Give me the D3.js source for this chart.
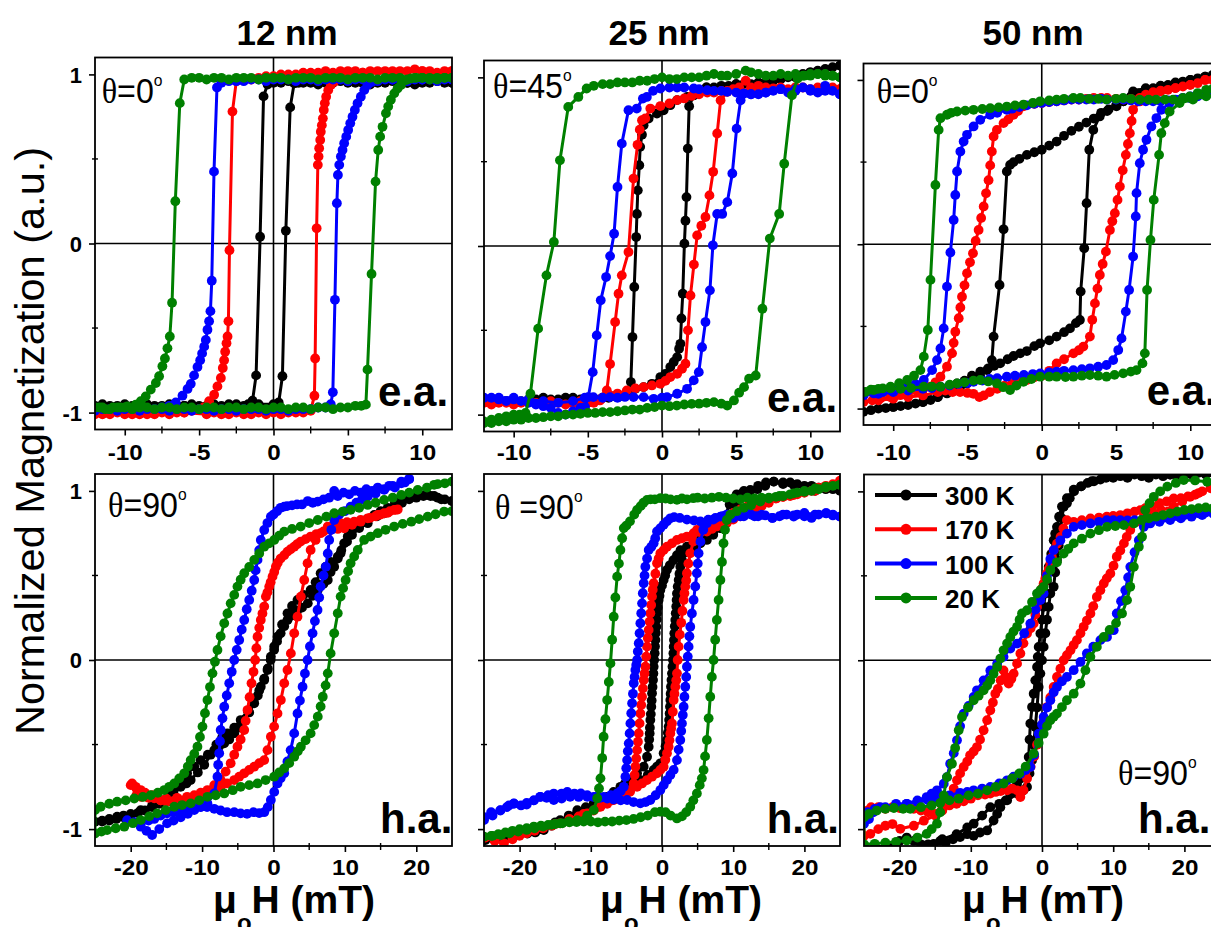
<!DOCTYPE html>
<html><head><meta charset="utf-8">
<script src="https://cdn.jsdelivr.net/npm/d3@7"></script>
<style>body{margin:0;background:#fff}svg{display:block}text{font-family:"Liberation Sans",Arial,sans-serif}</style>
</head><body>
<script>
// ---------------- data ----------------
const temps = ["300 K","170 K","100 K","20 K"];
const colors = ["#000000","#ff0000","#0000ff","#008000"];
const titles = ["12 nm","25 nm","50 nm"];
const angleLabels = ["=0","=45","=0","=90"," =90","=90"];
const axisLabels = ["e.a.","e.a.","e.a.","h.a.","h.a.","h.a."];
const topXMajor = [-10,-5,0,5,10], topXMinor = [-7.5,-2.5,2.5,7.5];
const botXMajor = [-20,-10,0,10,20], botXMinor = [-15,-5,5,15];
const yMajor = [-1,0,1], yMinor = [-0.5,0.5];

// 12 nm, theta=0, easy axis
const ea12_300K = [[12,.95],[11.5,.95],[11,.96],[10.5,.95],[10,.95],[9.5,.94],[9,.95],[8.5,.95],[8,.96],[7.5,.95],[7,.95],[6.5,.94],[6,.95],[5.5,.95],[5,.95],[4.5,.96],[4,.95],[3.5,.95],[3,.94],[2.5,.95],[2,.95],[1.5,.95],[1,.96],[.5,.95],[0,.95],[-.4,.94],[-.67,.87],[-.9,.04],[-1.17,-.78],[-1.41,-.93],[-1.7,-.95],[-2,-.96],[-2.5,-.95],[-3,-.96],[-3.5,-.96],[-4,-.95],[-4.5,-.96],[-5,-.96],[-5.5,-.95],[-6,-.96],[-6.5,-.96],[-7,-.95],[-7.5,-.96],[-8,-.96],[-8.5,-.95],[-9,-.96],[-9.5,-.96],[-10,-.95],[-10.5,-.96],[-11,-.96],[-11.5,-.95],[-12,-.96],
[-9,-.95],[-6,-.96],[-3,-.95],[-1,-.95],[0,-.95],[.35,-.94],[.6,-.785],[.83,.075],[1.12,.805],[1.39,.947],[1.7,.95],[3,.95],[6,.95],[9,.95],[12,.95]];
const ea12_170K = [[12,1.02],[11.5,1.02],[11,1.01],[10.5,1.02],[10,1.02],[9.5,1.03],[9,1.02],[8.5,1.02],[8,1.01],[7.5,1.02],[7,1.02],[6.5,1.02],[6,1.01],[5.5,1.02],[5,1.02],[4.5,1.02],[4,1.01],[3.5,1.02],[3,1.01],[2.5,1.01],[2,1.01],[1.5,1.0],[1,1.0],[.5,1.0],[0,.99],[-.5,.99],[-1,.98],[-1.5,.97],[-2,.97],[-2.5,.96],[-2.76,.78],[-2.96,-.04],[-3.03,-.46],[-3.09,-.55],[-3.16,-.59],[-3.25,-.64],[-3.32,-.69],[-3.41,-.736],[-3.54,-.795],[-3.77,-.845],[-3.99,-.894],[-4.33,-.933],[-4.7,-.97],[-5,-.98],[-5.5,-.99],[-6,-1.0],[-6.5,-1.0],[-7,-1.01],[-7.5,-1.0],[-8,-1.01],[-8.5,-1.01],[-9,-1.0],[-9.5,-1.01],[-10,-1.01],[-10.5,-1.0],[-11,-1.01],[-11.5,-1.01],[-12,-1.01],
[-9,-1.01],[-6,-1.0],[-4.5,-1.01],[-4,-1.0],[-3.5,-1.01],[-3,-1.01],[-2.5,-1.0],[-2,-1.01],[-1.5,-1.01],[-1,-1.0],[-.5,-1.01],[0,-1.0],[.5,-1.01],[1,-1.0],[1.5,-1.0],[2,-1.0],[2.5,-.99],[2.75,-.9],[2.8,-.68],[2.9,.09],[2.98,.465],[3.03,.514],[3.07,.563],[3.14,.612],[3.18,.661],[3.25,.70],[3.32,.74],[3.38,.79],[3.45,.83],[3.54,.868],[3.68,.907],[3.86,.937],[4.08,.957],[4.5,.99],[5,1.0],[6,1.01],[8,1.02],[10,1.02],[12,1.02]];
const ea12_100K = [[12,.97],[11.5,.97],[11,.96],[10.5,.97],[10,.97],[9.5,.97],[9,.96],[8.5,.97],[8,.97],[7.5,.97],[7,.96],[6.5,.97],[6,.97],[5.5,.97],[5,.96],[4.5,.97],[4,.97],[3.5,.97],[3,.96],[2.5,.97],[2,.97],[1.5,.96],[1,.97],[.5,.97],[0,.97],[-.5,.96],[-1,.97],[-1.5,.97],[-2,.96],[-2.5,.96],[-3,.96],[-3.5,.95],[-3.8,.923],[-4.0,.425],[-4.15,-.22],[-4.24,-.40],[-4.33,-.46],[-4.44,-.51],[-4.55,-.57],[-4.66,-.61],[-4.8,-.65],[-4.93,-.69],[-5.11,-.73],[-5.34,-.78],[-5.56,-.83],[-5.78,-.86],[-6.12,-.9],[-6.57,-.94],[-7,-.96],[-7.5,-.97],[-8,-.98],[-8.5,-.98],[-9,-.99],[-9.5,-.98],[-10,-.98],[-10.5,-.99],[-11,-.98],[-11.5,-.98],[-12,-.99],
[-9,-.98],[-7.5,-.98],[-7,-.99],[-6.5,-.98],[-6,-.98],[-5.5,-.99],[-5,-.98],[-4.5,-.98],[-4,-.99],[-3.5,-.98],[-3,-.98],[-2.5,-.99],[-2,-.98],[-1.5,-.98],[-1,-.98],[-.5,-.99],[0,-.98],[.5,-.98],[1,-.99],[1.5,-.98],[2,-.98],[2.5,-.98],[3,-.97],[3.5,-.97],[3.85,-.95],[3.99,-.88],[4.13,-.333],[4.26,.238],[4.33,.405],[4.42,.465],[4.53,.514],[4.64,.553],[4.75,.593],[4.89,.632],[5.02,.671],[5.16,.711],[5.31,.75],[5.47,.79],[5.65,.829],[5.87,.868],[6.1,.907],[6.32,.937],[6.6,.955],[7,.965],[8,.97],[10,.97],[12,.97]];
const ea12_20K = [[12,.98],[11.5,.98],[11,.97],[10.5,.98],[10,.98],[9.5,.98],[9,.97],[8.5,.98],[8,.98],[7.5,.98],[7,.97],[6.5,.98],[6,.98],[5.5,.98],[5,.97],[4.5,.98],[4,.98],[3.5,.98],[3,.97],[2.5,.98],[2,.98],[1.5,.98],[1,.97],[.5,.98],[0,.98],[-.5,.98],[-1,.97],[-1.5,.98],[-2,.98],[-2.5,.98],[-3,.97],[-3.5,.98],[-4,.98],[-4.5,.97],[-5,.98],[-5.5,.98],[-6,.97],[-6.3,.83],[-6.6,.25],[-6.82,-.35],[-6.97,-.55],[-7.13,-.62],[-7.3,-.68],[-7.47,-.726],[-7.69,-.785],[-7.91,-.825],[-8.25,-.864],[-8.59,-.904],[-8.92,-.933],[-9.26,-.953],[-9.82,-.963],[-10.3,-.97],[-10.8,-.97],[-11.3,-.98],[-11.7,-.97],[-12,-.97],
[-11.5,-.97],[-11,-.98],[-10.5,-.97],[-10,-.97],[-9.5,-.98],[-9,-.97],[-8.5,-.97],[-8,-.98],[-7.5,-.97],[-7,-.97],[-6.5,-.98],[-6,-.97],[-5.5,-.97],[-5,-.98],[-4.5,-.97],[-4,-.97],[-3.5,-.98],[-3,-.97],[-2.5,-.97],[-2,-.98],[-1.5,-.97],[-1,-.97],[-.5,-.98],[0,-.97],[.5,-.97],[1,-.98],[1.5,-.97],[2,-.97],[2.5,-.98],[3,-.97],[3.5,-.97],[4,-.98],[4.5,-.97],[5,-.97],[5.5,-.96],[5.9,-.96],[6.21,-.953],[6.32,-.746],[6.59,-.18],[6.86,.366],[7.04,.553],[7.17,.632],[7.33,.69],[7.56,.77],[7.71,.81],[7.89,.85],[8.12,.888],[8.34,.917],[8.57,.937],[8.9,.967],[9.24,.976],[9.6,.98],[10,.98],[10.5,.97],[11,.98],[11.5,.98],[12,.98]];

// 25 nm, theta=45, easy axis
const ea25_300K = [[12,1.07],[11.5,1.06],[11,1.05],[10.5,1.04],[10,1.03],[9.5,1.02],[9,1.0],[8.5,1.0],[8,.99],[7.5,.98],[7,.97],[6.5,.97],[6,.96],[5.5,.96],[5,.96],[4.5,.95],[4,.95],[3.5,.94],[3,.94],[2.5,.92],[2.14,.894],[1.7,.884],[1.02,.865],[.56,.835],[.11,.805],[-.34,.785],[-.9,.756],[-1.24,.716],[-1.35,.66],[-1.47,.588],[-1.53,.479],[-1.63,.33],[-1.69,.19],[-1.74,.053],[-1.87,-.243],[-1.99,-.54],[-2.1,-.807],[-2.37,-.876],[-2.8,-.89],[-3.2,-.89],[-3.6,-.9],[-4,-.9],[-4.5,-.91],[-5,-.9],[-5.5,-.91],[-6,-.91],[-6.5,-.9],[-7,-.91],[-7.5,-.91],[-8,-.9],[-8.5,-.91],[-9,-.91],[-9.5,-.92],[-10,-.91],[-10.5,-.92],[-11,-.91],[-11.5,-.92],[-12,-.92],
[-10,-.91],[-8,-.91],[-6,-.9],[-4,-.9],[-3,-.89],[-2.37,-.866],[-1.8,-.847],[-1.24,-.837],[-.68,-.817],[-.11,-.777],[.23,-.758],[.56,-.718],[.79,-.688],[1.02,-.659],[1.15,-.609],[1.24,-.58],[1.31,-.43],[1.4,-.283],[1.51,.014],[1.58,.15],[1.65,.29],[1.74,.578],[1.83,.829],[2.14,.894],[3,.94],[5,.96],[8,.99],[10,1.03],[12,1.07]];
const ea25_170K = [[12,.93],[11.5,.94],[11,.93],[10.5,.94],[10,.93],[9.5,.94],[9,.94],[8.5,.93],[8,.94],[7.5,.93],[7,.94],[6.5,.95],[6,.94],[5.64,.98],[5.2,.94],[4.8,.93],[4.4,.92],[4,.92],[3.5,.91],[3.05,.91],[2.5,.9],[2,.89],[1.5,.875],[1.02,.865],[.5,.845],[-.11,.83],[-.79,.815],[-1.13,.756],[-1.35,.746],[-1.5,.69],[-1.65,.6],[-1.92,.4],[-2.26,-.036],[-2.71,-.174],[-2.93,-.283],[-3.16,-.451],[-3.5,-.7],[-3.72,-.857],[-4.18,-.916],[-4.6,-.93],[-5,-.93],[-5.5,-.92],[-6,-.93],[-6.5,-.94],[-7,-.93],[-7.5,-.92],[-8,-.93],[-8.5,-.93],[-9,-.92],[-9.5,-.93],[-10,-.94],[-10.5,-.93],[-11,-.93],[-11.5,-.94],[-12,-.93],
[-10,-.93],[-8,-.93],[-6,-.93],[-4.6,-.92],[-4,-.9],[-3.5,-.886],[-3,-.875],[-2.37,-.857],[-1.8,-.845],[-1.24,-.837],[-.68,-.827],[-.11,-.817],[.23,-.8],[.56,-.777],[1.02,-.758],[1.35,-.728],[1.58,-.698],[1.75,-.5],[1.92,-.293],[2.15,-.11],[2.37,.063],[2.65,.12],[2.93,.172],[3.2,.3],[3.45,.44],[3.72,.667],[3.95,.864],[4.4,.914],[5,.92],[6,.93],[7.5,.935],[9,.94],[10.5,.935],[12,.93]];
const ea25_100K = [[12,.9],[11.5,.92],[11,.95],[10.5,.91],[10,.93],[9.5,.94],[9,.92],[8.5,.91],[8,.93],[7.5,.92],[7,.91],[6.5,.9],[6,.9],[5.5,.904],[5,.91],[4.4,.914],[4,.92],[3.5,.92],[3.05,.924],[2.5,.93],[2.14,.934],[1.5,.94],[1.02,.94],[.5,.94],[-.11,.934],[-.6,.92],[-1.02,.884],[-1.29,.874],[-1.7,.815],[-2.26,.805],[-2.71,.607],[-3.0,.35],[-3.23,.073],[-3.5,-.06],[-3.77,-.184],[-4.13,-.322],[-4.4,-.53],[-4.67,-.748],[-4.97,-.896],[-5.19,-.955],[-5.5,-.96],[-6,-.98],[-6.5,-1.0],[-7,-.99],[-7.5,-.96],[-8,-.95],[-8.5,-.94],[-9,-.93],[-9.5,-.92],[-10,-.91],[-10.5,-.92],[-11,-.91],[-11.5,-.9],[-12,-.9],
[-11,-.9],[-10,-.9],[-9,-.91],[-8,-.92],[-7,-.93],[-6,-.92],[-5.2,-.9],[-4.63,-.896],[-4,-.9],[-3.5,-.896],[-3,-.9],[-2.5,-.895],[-1.92,-.896],[-1.24,-.896],[-.56,-.906],[0,-.9],[.34,-.896],[1.02,-.876],[1.69,-.847],[2.14,-.797],[2.48,-.748],[2.7,-.6],[2.93,-.451],[3.23,-.263],[3.43,.004],[3.72,.19],[4.06,.19],[4.4,.26],[4.74,.43],[5.03,.696],[5.3,.864],[5.53,.904],[6,.9],[7,.91],[8,.93],[9,.93],[10,.92],[11,.92],[12,.9]];
const ea25_20K = [[12,1.0],[11.5,1.01],[11,1.01],[10.5,1.02],[10,1.02],[9.5,1.01],[9,1.02],[8.5,1.01],[8,1.02],[7.5,1.01],[7,1.01],[6.5,1.02],[6,1.03],[5.64,1.04],[5,1.02],[4.4,1.01],[4,1.01],[3.5,1.02],[3,1.01],[2.5,1.0],[2,1.0],[1.5,1.0],[1,.99],[.5,.99],[0,1.0],[-.5,.99],[-1,.98],[-1.5,.98],[-2,.97],[-2.5,.97],[-3,.97],[-3.5,.96],[-4,.96],[-4.6,.95],[-5.08,.934],[-5.64,.884],[-6.32,.825],[-6.88,.508],[-7.29,.024],[-7.79,-.174],[-8.35,-.49],[-8.87,-.876],[-9.2,-.99],[-9.6,-1.0],[-10,-1.0],[-10.5,-1.01],[-11,-1.02],[-11.5,-1.03],[-12,-1.04],
[-12,-1.05],[-11.5,-1.05],[-11,-1.04],[-10.5,-1.04],[-10,-1.03],[-9.5,-1.03],[-9,-1.02],[-8.5,-1.02],[-8,-1.015],[-7.5,-1.01],[-7,-1.01],[-6.5,-1.0],[-6,-1.0],[-5.5,-.995],[-5,-.99],[-4.5,-.99],[-4,-.985],[-3.5,-.985],[-3,-.98],[-2.5,-.975],[-2,-.97],[-1.5,-.97],[-1,-.96],[-.5,-.955],[0,-.946],[.5,-.95],[1,-.946],[1.5,-.94],[2,-.936],[2.5,-.935],[3,-.93],[3.5,-.926],[4,-.935],[4.4,-.946],[4.85,-.916],[5.2,-.87],[5.53,-.837],[5.87,-.787],[6.32,-.768],[6.77,-.372],[7.27,.044],[7.9,.19],[8.24,.488],[8.76,.894],[9.14,.993],[9.6,1.01],[10,1.01],[10.5,1.02],[11,1.02],[11.5,1.01],[12,1.0]];

// 50 nm, theta=0, easy axis
const ea50_300K = [[12,1.04],[11.5,1.03],[11,1.02],[10.5,1.01],[10,1.0],[9.5,.99],[9,.98],[8.5,.97],[8,.96],[7.5,.95],[7,.94],[6.5,.92],[6,.9],[5.5,.87],[5,.845],[4.5,.82],[4,.8],[3.5,.765],[3,.74],[2.5,.715],[2,.69],[1.5,.66],[1,.625],[.5,.6],[0,.575],[-.5,.56],[-1,.544],[-1.5,.52],[-1.9,.50],[-2.13,.483],[-2.35,.443],[-2.57,.091],[-2.84,-.248],[-3.24,-.562],[-3.36,-.705],[-3.69,-.766],[-4.14,-.806],[-4.6,-.83],[-5.03,-.847],[-5.5,-.87],[-6,-.89],[-6.38,-.908],[-7,-.93],[-7.49,-.948],[-8,-.96],[-8.5,-.97],[-9,-.979],[-9.5,-.985],[-10,-.99],[-10.5,-.997],[-11,-1.0],[-11.5,-1.01],[-12,-1.02],
[-10,-.99],[-8,-.96],[-7,-.93],[-6.38,-.9],[-6,-.87],[-5.7,-.847],[-5.2,-.83],[-4.7,-.8],[-4.14,-.776],[-3.6,-.755],[-3.2,-.74],[-2.8,-.725],[-2.3,-.7],[-1.9,-.68],[-1.45,-.664],[-1,-.65],[-.5,-.62],[-.11,-.603],[.5,-.585],[1,-.562],[1.5,-.535],[1.9,-.512],[2.3,-.48],[2.57,-.461],[2.62,-.288],[2.86,-.024],[3.02,.25],[3.2,.575],[3.47,.696],[3.9,.778],[4.4,.81],[5.03,.839],[5.5,.87],[6.15,.93],[7,.95],[8,.965],[9,.985],[10,1.0],[11,1.02],[12,1.04]];
const ea50_170K = [[12,1.01],[11.5,1.0],[11,1.0],[10.5,.98],[10,.97],[9.5,.96],[9,.95],[8.5,.94],[8,.935],[7.5,.925],[7,.91],[6.6,.89],[6,.885],[5.5,.88],[5,.885],[4.4,.89],[4,.89],[3.5,.89],[3,.885],[2.5,.88],[2,.88],[1.5,.875],[1,.87],[.5,.865],[0,.86],[-.5,.855],[-1.23,.839],[-1.6,.81],[-1.9,.788],[-2.25,.76],[-2.57,.737],[-3.02,.696],[-3.24,.656],[-3.36,.564],[-3.47,.48],[-3.58,.39],[-3.75,.31],[-3.91,.23],[-4.08,.16],[-4.25,.087],[-4.45,.02],[-4.63,-.055],[-4.83,-.11],[-5.03,-.177],[-5.2,-.25],[-5.37,-.319],[-5.48,-.385],[-5.59,-.45],[-5.82,-.532],[-5.93,-.6],[-6.04,-.664],[-6.38,-.745],[-6.82,-.806],[-7.15,-.84],[-7.49,-.867],[-8.0,-.885],[-8.39,-.897],[-9,-.91],[-9.5,-.918],[-10.2,-.93],[-10.85,-.938],[-11.4,-.95],[-12,-.96],
[-11,-.95],[-10,-.94],[-9,-.93],[-8,-.92],[-7,-.9],[-6.5,-.89],[-6,-.9],[-5.5,-.9],[-5,-.905],[-4.6,-.91],[-4.2,-.93],[-3.9,-.92],[-3.5,-.9],[-3,-.88],[-2.5,-.86],[-2,-.85],[-1.5,-.835],[-1,-.826],[-.5,-.81],[0,-.8],[.5,-.77],[1.0,-.725],[1.5,-.7],[2.13,-.664],[2.5,-.645],[2.8,-.623],[3.24,-.562],[3.4,-.46],[3.58,-.36],[3.75,-.27],[3.91,-.187],[4.1,-.12],[4.32,-.045],[4.59,.087],[4.75,.14],[4.92,.189],[5.1,.27],[5.26,.351],[5.45,.45],[5.66,.544],[5.8,.61],[5.93,.676],[6.05,.75],[6.15,.818],[6.6,.869],[7,.88],[8,.93],[9,.95],[10,.97],[11,1.0],[12,1.01]];
const ea50_100K = [[12,.93],[11.5,.92],[11,.92],[10.5,.91],[10,.9],[9.5,.89],[9,.88],[8.5,.875],[8,.87],[7.5,.87],[7,.87],[6.5,.87],[6,.875],[5.5,.88],[5,.88],[4.4,.88],[4,.885],[3.5,.88],[3,.88],[2.5,.88],[2,.88],[1.5,.875],[1,.87],[.5,.865],[0,.86],[-.5,.855],[-1,.845],[-1.5,.835],[-2,.825],[-2.35,.818],[-3,.8],[-3.47,.788],[-4.14,.757],[-4.59,.717],[-5.03,.666],[-5.26,.625],[-5.48,.564],[-5.7,.443],[-5.82,.3],[-5.93,.148],[-6.15,-.05],[-6.38,-.258],[-6.6,-.512],[-6.82,-.634],[-7.05,-.705],[-7.38,-.766],[-7.94,-.826],[-8.5,-.85],[-9.06,-.867],[-9.6,-.877],[-10.18,-.887],[-10.7,-.9],[-11.3,-.908],[-12,-.92],
[-11,-.91],[-10,-.9],[-9,-.89],[-8,-.88],[-7.4,-.875],[-6.82,-.867],[-6.2,-.86],[-5.6,-.85],[-5,-.845],[-4.59,-.837],[-4,-.83],[-3.5,-.82],[-3,-.815],[-2.35,-.806],[-1.8,-.8],[-1.2,-.795],[-.6,-.79],[-.11,-.786],[.5,-.78],[1.0,-.776],[1.5,-.77],[2.13,-.766],[2.7,-.76],[3.24,-.755],[3.8,-.745],[4.36,-.735],[4.81,-.705],[5.15,-.644],[5.37,-.573],[5.66,-.41],[5.88,-.278],[6.15,-.075],[6.33,.169],[6.38,.311],[6.6,.493],[6.82,.575],[7.05,.636],[7.38,.717],[7.72,.768],[8.05,.818],[8.61,.859],[9.3,.88],[9.96,.89],[10.5,.9],[11.07,.92],[12,.93]];
const ea50_20K = [[12,.95],[11.5,.945],[11.07,.94],[10.5,.92],[9.96,.9],[9.5,.89],[8.84,.88],[8.3,.88],[7.7,.88],[7.2,.88],[6.6,.88],[6,.885],[5.48,.89],[5,.885],[4.36,.88],[3.8,.885],[3.2,.885],[2.6,.89],[2.13,.89],[1.5,.885],[1.0,.88],[.5,.875],[-.11,.87],[-.6,.86],[-1.23,.85],[-1.8,.845],[-2.35,.838],[-2.9,.833],[-3.47,.828],[-4,.823],[-4.59,.818],[-5.15,.813],[-5.7,.808],[-6.1,.8],[-6.38,.788],[-6.82,.767],[-6.94,.696],[-7.16,.361],[-7.49,-.217],[-7.67,-.522],[-7.94,-.684],[-8.17,-.766],[-8.6,-.8],[-9.06,-.826],[-9.6,-.845],[-10.18,-.867],[-10.7,-.877],[-11.3,-.887],[-11.86,-.898],[-12,-.9],
[-11.5,-.885],[-11,-.88],[-10.18,-.877],[-9.5,-.88],[-8.8,-.875],[-7.94,-.867],[-7.4,-.866],[-6.82,-.867],[-6.2,-.855],[-5.7,-.847],[-5.2,-.84],[-4.6,-.83],[-4.14,-.826],[-3.6,-.835],[-3.02,-.847],[-2.6,-.87],[-2.13,-.887],[-1.7,-.86],[-1.23,-.837],[-.7,-.82],[-.11,-.806],[.5,-.806],[1.0,-.806],[1.6,-.808],[2.13,-.806],[2.7,-.8],[3.24,-.796],[3.8,-.8],[4.36,-.806],[4.9,-.795],[5.48,-.786],[6,-.775],[6.38,-.766],[6.78,-.725],[6.94,-.664],[7.09,-.278],[7.32,.026],[7.54,.27],[7.9,.544],[8.05,.676],[8.28,.737],[8.61,.808],[9.28,.859],[10.18,.88],[11.07,.9],[12,.91]];

// 12 nm, theta=90, hard axis
const ha12_300K = [[25,.94],[24,.95],[23,.96],[22,.97],[21,.97],[20,.96],[19,.95],[18,.93],[17,.91],[16,.88],[15.5,.868],[14.5,.85],[13.2,.809],[12,.78],[11,.74],[10.3,.7],[9.4,.631],[9,.6],[8.5,.552],[8,.52],[7.6,.473],[7,.45],[6.2,.414],[5.5,.38],[4.8,.335],[4,.31],[3.3,.29],[2.9,.276],[2.4,.26],[1.96,.237],[1.5,.2],[1,.158],[.5,.11],[.09,.06],[-.4,0],[-.84,-.059],[-1.3,-.11],[-1.78,-.158],[-2.2,-.21],[-2.7,-.256],[-3.4,-.31],[-4.1,-.355],[-4.8,-.4],[-5.5,-.434],[-6.2,-.47],[-6.9,-.493],[-7.6,-.51],[-8.3,-.533],[-9.2,-.56],[-10.2,-.592],[-11.1,-.63],[-12.1,-.67],[-12.8,-.71],[-13.5,-.75],[-14.6,-.79],[-15.8,-.83],[-17,-.86],[-18.6,-.888],[-20,-.91],[-21,-.92],[-21.9,-.927],[-23,-.94],[-24,-.95],[-25,-.957],
[-24,-.955],[-23,-.95],[-22,-.94],[-21,-.93],[-20,-.92],[-19,-.905],[-18,-.89],[-17,-.87],[-16,-.85],[-15,-.82],[-14,-.79],[-13,-.75],[-12.2,-.73],[-11.6,-.71],[-10.6,-.665],[-9.7,-.62],[-8.8,-.56],[-8,-.5],[-7.2,-.46],[-6.45,-.434],[-5.5,-.4],[-4.6,-.355],[-3.6,-.3],[-2.8,-.24],[-2,-.18],[-1.3,-.118],[-.8,-.05],[-.37,.02],[.1,.08],[.56,.138],[1.2,.21],[1.96,.276],[2.6,.32],[3.36,.355],[4.2,.385],[5.2,.414],[5.9,.46],[6.6,.513],[7.3,.55],[8,.58],[9,.611],[9.5,.65],[9.9,.69],[10.4,.73],[10.8,.769],[11.5,.79],[12.2,.809],[13.2,.835],[14.1,.858],[15,.88],[16,.9],[17,.93],[17.9,.947],[19,.96],[20,.97],[21,.975],[21.6,.976],[22.5,.97],[23.5,.95],[25,.94]];
const ha12_170K = [[17.4,.89],[16.9,.888],[16,.87],[15,.86],[14.6,.858],[13.5,.84],[12.2,.818],[11,.8],[9.9,.779],[9,.775],[8,.769],[7,.76],[6,.745],[5.2,.73],[4.5,.715],[3.8,.70],[3.3,.685],[2.9,.67],[2.4,.655],[1.96,.641],[1.5,.62],[1,.60],[.6,.575],[.33,.552],[.1,.52],[-.14,.493],[-.4,.46],[-.6,.434],[-.85,.4],[-1.07,.375],[-1.3,.316],[-1.55,.275],[-1.78,.237],[-2.0,.19],[-2.24,.138],[-2.4,.07],[-2.57,0],[-2.8,-.07],[-3.08,-.138],[-3.35,-.22],[-3.64,-.296],[-3.9,-.36],[-4.1,-.414],[-4.6,-.47],[-5.05,-.513],[-5.5,-.56],[-6.0,-.611],[-6.7,-.66],[-7.4,-.71],[-8.3,-.74],[-9.25,-.769],[-10.2,-.785],[-11.1,-.8],[-12.1,-.809],[-13.5,-.815],[-15,-.82],[-15.8,-.83],[-17,-.8],[-18,-.785],[-18.6,-.769],[-19.3,-.75],[-19.8,-.73],[-20,-.74],
[-19.2,-.8],[-18.5,-.81],[-17.5,-.815],[-16.7,-.818],[-15.8,-.83],[-14.9,-.838],[-14,-.835],[-13,-.83],[-12,-.815],[-11.1,-.809],[-10,-.79],[-9,-.775],[-8,-.76],[-7.4,-.75],[-6.5,-.73],[-5.5,-.71],[-4.8,-.69],[-4.1,-.67],[-3.4,-.65],[-2.7,-.631],[-2,-.61],[-1.3,-.592],[-.84,-.533],[-.37,-.454],[.09,-.394],[.56,-.316],[1.03,-.237],[1.5,-.138],[1.96,-.059],[2.43,.039],[2.9,.158],[3.36,.256],[3.83,.375],[4.3,.473],[4.77,.572],[5.2,.651],[5.9,.71],[6.6,.75],[7.6,.789],[8.5,.8],[9.4,.809],[10.3,.815],[11.3,.818],[12.2,.828],[13.2,.838],[14.3,.85],[15.5,.868],[16.3,.88],[17.1,.888]];
const ha12_100K = [[19,1.07],[18.4,1.05],[17.9,1.045],[17,1.02],[16.2,1.03],[15.5,1.01],[14.6,1.02],[13.8,1.0],[13,1.01],[12.2,.99],[11.4,1.0],[10.6,.98],[9.8,.99],[9,.97],[8.5,1.0],[7.8,.96],[7,.95],[6.2,.937],[5.5,.93],[4.8,.94],[4,.92],[3.3,.92],[2.6,.915],[1.9,.91],[1.5,.907],[1,.9],[.5,.88],[0,.86],[-.37,.848],[-.85,.81],[-1.3,.769],[-1.78,.71],[-2.0,.65],[-2.24,.592],[-2.5,.53],[-2.7,.473],[-3.05,.41],[-3.4,.355],[-3.75,.3],[-4.1,.237],[-4.45,.18],[-4.8,.118],[-5.15,.06],[-5.5,0],[-5.85,-.07],[-6.2,-.138],[-6.55,-.21],[-6.9,-.276],[-7.15,-.345],[-7.4,-.414],[-7.5,-.48],[-7.6,-.552],[-7.75,-.62],[-7.85,-.69],[-8.3,-.789],[-9.25,-.848],[-10.2,-.87],[-11.1,-.888],[-12,-.91],[-13,-.93],[-14,-.95],[-14.9,-.966],[-16,-1.0],[-17,-1.035],[-17.8,-1.01],[-18.6,-.986],[-19.5,-.96],[-20.5,-.947],
[-19.5,-.96],[-18.6,-.97],[-17.5,-.95],[-16.7,-.94],[-15.8,-.92],[-14.9,-.907],[-14,-.9],[-13,-.89],[-12,-.885],[-11,-.875],[-10.2,-.868],[-9.3,-.87],[-8.3,-.88],[-7.4,-.89],[-6.5,-.9],[-5.5,-.9],[-4.6,-.907],[-3.7,-.91],[-2.8,-.9],[-2,-.905],[-1.3,-.9],[-.8,-.87],[-.37,-.828],[.1,-.78],[.56,-.73],[1.0,-.7],[1.5,-.67],[1.95,-.6],[2.4,-.533],[2.9,-.434],[3.36,-.316],[3.7,-.24],[4.07,-.158],[4.4,-.08],[4.77,0],[5.1,.08],[5.47,.158],[5.8,.23],[6.17,.296],[6.4,.37],[6.6,.434],[7.0,.5],[7.34,.552],[7.6,.63],[7.8,.71],[8.1,.77],[8.5,.828],[9.2,.86],[10,.88],[10.8,.907],[11.6,.93],[12.4,.95],[13.2,.966],[14.3,.985],[15.5,1.006],[16.7,1.03],[17.9,1.055],[19,1.07]];
const ha12_20K = [[25,1.055],[24,1.045],[23,1.04],[22.5,1.036],[21.5,1.02],[20.2,1.006],[19,.99],[17.9,.976],[16.7,.96],[15.5,.947],[14.3,.93],[13.2,.917],[12,.9],[10.8,.888],[9.7,.878],[8.5,.868],[7.4,.848],[6.2,.828],[5,.81],[3.8,.789],[2.6,.775],[1.5,.759],[.8,.735],[.1,.71],[-.6,.69],[-1.3,.67],[-2,.63],[-2.7,.592],[-3.4,.55],[-4.1,.513],[-4.6,.475],[-5.05,.434],[-5.5,.385],[-6,.335],[-6.45,.275],[-6.9,.217],[-7.4,.14],[-7.85,.059],[-8.2,-.01],[-8.55,-.079],[-8.9,-.16],[-9.25,-.237],[-9.6,-.315],[-9.95,-.394],[-10.3,-.455],[-10.65,-.513],[-11.1,-.555],[-11.6,-.592],[-12,-.63],[-12.5,-.67],[-13.2,-.7],[-13.9,-.73],[-14.6,-.75],[-15.3,-.769],[-16.2,-.785],[-17.2,-.8],[-18.3,-.81],[-19.5,-.819],[-20.7,-.83],[-21.9,-.838],[-23,-.85],[-24.2,-.868],[-25,-.888],
[-25,-1.026],[-24.1,-1.015],[-23.3,-1.006],[-22.1,-.995],[-20.9,-.986],[-19.7,-.965],[-18.6,-.947],[-17.4,-.925],[-16.3,-.907],[-15.1,-.888],[-13.9,-.868],[-12.8,-.858],[-11.6,-.848],[-10.4,-.83],[-9.25,-.809],[-8.1,-.8],[-6.9,-.789],[-5.7,-.77],[-4.6,-.75],[-3.4,-.74],[-2.24,-.73],[-1.1,-.71],[.09,-.69],[.8,-.665],[1.5,-.641],[2.2,-.61],[2.9,-.572],[3.4,-.54],[3.83,-.513],[4.5,-.475],[5.2,-.434],[5.7,-.385],[6.2,-.335],[6.6,-.275],[6.9,-.217],[7.3,-.15],[7.6,-.079],[8.0,.039],[8.5,.158],[9.0,.276],[9.4,.375],[9.75,.425],[10.1,.473],[10.45,.525],[10.8,.572],[11.3,.612],[11.8,.651],[12.7,.71],[13.6,.73],[14.6,.75],[15.7,.77],[16.9,.789],[18.1,.805],[19.3,.818],[20.4,.833],[21.6,.848],[22.7,.862],[23.9,.878],[25,.88]];

// 25 nm, theta=90, hard axis
const ha25_300K = [[25,1.0],[24,1.01],[23,1.02],[22,1.02],[21,1.03],[20,1.03],[19,1.04],[18,1.05],[17,1.05],[15.7,1.055],[14.5,1.03],[13.4,1.01],[12.4,1.0],[11.4,.99],[10.4,.92],[9.5,.86],[8.8,.8],[8.2,.78],[7.2,.76],[6.3,.75],[5.4,.71],[4.4,.69],[3.5,.67],[2.6,.65],[2.1,.62],[1.6,.59],[1.1,.56],[.7,.533],[.45,.5],[.23,.473],[0,.44],[-.23,.414],[-.35,.38],[-.47,.355],[-.6,.31],[-.7,.276],[-.75,.24],[-.8,.197],[-.87,.16],[-.93,.118],[-.98,.08],[-1.03,.04],[-1.1,0],[-1.17,-.04],[-1.21,-.08],[-1.26,-.118],[-1.33,-.16],[-1.4,-.197],[-1.45,-.24],[-1.5,-.276],[-1.57,-.32],[-1.64,-.355],[-1.7,-.4],[-1.73,-.434],[-1.8,-.47],[-1.87,-.513],[-2.1,-.572],[-2.57,-.631],[-3.5,-.67],[-4.44,-.71],[-5.2,-.73],[-5.84,-.75],[-6.8,-.78],[-7.7,-.809],[-8.6,-.83],[-9.6,-.848],[-10.7,-.87],[-11.9,-.888],[-13.1,-.92],[-14.3,-.947],[-15.5,-.98],[-16.6,-1.006],[-17.8,-1.02],[-18.9,-1.026],[-20.1,-1.035],[-21.3,-1.045],[-22.5,-1.05],[-23.6,-1.06],[-24.8,-1.065],
[-23,-1.04],[-21,-1.03],[-19,-1.02],[-17,-1.0],[-15,-.96],[-13,-.93],[-11,-.9],[-9,-.86],[-7,-.82],[-5.5,-.79],[-4.9,-.77],[-4,-.74],[-3,-.71],[-2,-.68],[-1.17,-.65],[-.7,-.63],[-.23,-.611],[.23,-.552],[.5,-.51],[.7,-.473],[.82,-.43],[.93,-.394],[1.0,-.355],[1.07,-.316],[1.12,-.276],[1.17,-.237],[1.21,-.2],[1.26,-.158],[1.33,-.118],[1.4,-.079],[1.47,-.04],[1.54,0],[1.6,.04],[1.64,.079],[1.68,.118],[1.73,.158],[1.8,.2],[1.87,.237],[1.93,.276],[2.0,.316],[2.05,.355],[2.1,.394],[2.2,.434],[2.34,.473],[2.45,.51],[2.57,.552],[2.8,.59],[3.04,.631],[3.7,.655],[4.44,.67],[5.4,.69],[6.3,.71],[7.2,.74],[8.2,.78],[8.8,.85],[9.5,.92],[10.5,.98],[11.5,1.0],[12.4,1.006],[13.5,1.03],[14.6,1.05],[15.7,1.055],[17,1.04],[18.5,1.035],[20,1.02],[21.5,1.0],[23,1.01],[25,1.02]];
const ha25_170K = [[25,1.055],[24,1.04],[23,1.03],[22,1.02],[21,1.0],[20,.99],[19,.98],[18,.97],[17,.965],[16.1,.957],[15,.93],[14,.91],[13,.89],[12,.87],[11,.85],[10,.83],[9.1,.81],[8.4,.8],[7.7,.79],[7,.775],[6.3,.76],[5.4,.755],[4.44,.75],[3.5,.73],[2.8,.72],[2.1,.71],[1.4,.69],[.7,.67],[.23,.65],[-.23,.631],[-.47,.6],[-.7,.572],[-.93,.51],[-1.17,.454],[-1.3,.415],[-1.4,.375],[-1.52,.325],[-1.64,.276],[-1.75,.227],[-1.87,.178],[-2.0,.13],[-2.1,.079],[-2.22,.02],[-2.34,-.04],[-2.45,-.08],[-2.57,-.118],[-2.68,-.168],[-2.8,-.217],[-2.92,-.266],[-3.04,-.316],[-3.15,-.375],[-3.27,-.434],[-3.38,-.483],[-3.5,-.533],[-3.62,-.582],[-3.74,-.631],[-3.85,-.68],[-3.97,-.73],[-4.44,-.769],[-5.37,-.789],[-6.1,-.81],[-6.78,-.828],[-7.7,-.85],[-8.64,-.868],[-9.6,-.89],[-10.5,-.907],[-11.7,-.925],[-12.9,-.945],[-14.3,-.966],[-15.5,-.98],[-16.7,-.995],[-17.9,-1.01],[-19,-1.025],[-20,-1.04],[-21,-1.06],[-22.2,-1.085],[-23.5,-1.07],[-24.8,-1.05],
[-23,-1.04],[-21,-1.03],[-19,-1.01],[-17,-.99],[-15,-.97],[-13,-.94],[-11,-.91],[-9,-.87],[-7,-.83],[-5.5,-.8],[-4.5,-.78],[-3.5,-.75],[-2.8,-.73],[-2.1,-.71],[-1.4,-.69],[-.7,-.67],[-.23,-.65],[.23,-.631],[.47,-.59],[.7,-.552],[.93,-.513],[1.05,-.475],[1.17,-.434],[1.28,-.405],[1.4,-.375],[1.52,-.306],[1.64,-.237],[1.75,-.2],[1.87,-.158],[2.0,-.12],[2.1,-.079],[2.2,0],[2.34,.079],[2.5,.15],[2.7,.22],[2.87,.29],[3.04,.355],[3.15,.395],[3.27,.434],[3.4,.47],[3.5,.513],[3.7,.57],[3.97,.631],[4.4,.7],[4.9,.769],[5.6,.78],[6.4,.795],[7.2,.809],[8.1,.83],[9.1,.848],[10,.87],[11,.89],[12,.91],[13,.93],[14,.94],[15,.95],[16,.955],[17,.965],[18.5,.975],[20,.99],[21.5,1.0],[23,1.02],[25,1.06]];
const ha25_100K = [[25,.848],[24,.86],[23.1,.868],[22,.86],[21,.84],[20,.85],[19,.86],[18.5,.848],[17.5,.86],[16.5,.85],[15.5,.84],[14.5,.855],[13.5,.85],[12.5,.86],[11.5,.85],[10.5,.865],[9.5,.86],[8.5,.85],[7.5,.84],[6.5,.83],[5.4,.82],[4.5,.825],[3.5,.83],[2.5,.84],[1.7,.845],[1.17,.838],[.7,.82],[.23,.8],[-.23,.78],[-.7,.76],[-.95,.72],[-1.17,.69],[-1.5,.67],[-1.87,.651],[-2.1,.6],[-2.34,.552],[-2.45,.5],[-2.57,.454],[-2.7,.395],[-2.8,.335],[-2.92,.276],[-3.04,.217],[-3.15,.158],[-3.27,.099],[-3.4,.05],[-3.5,0],[-3.62,-.03],[-3.74,-.059],[-3.85,-.1],[-3.97,-.138],[-4.08,-.2],[-4.2,-.256],[-4.32,-.315],[-4.44,-.375],[-4.55,-.434],[-4.67,-.493],[-4.8,-.54],[-4.9,-.592],[-5.02,-.64],[-5.14,-.69],[-5.37,-.75],[-5.8,-.775],[-6.3,-.789],[-7.2,-.8],[-8.2,-.809],[-9.3,-.81],[-10.5,-.809],[-11.7,-.81],[-12.9,-.809],[-14.1,-.82],[-15.2,-.828],[-16.2,-.815],[-17.1,-.809],[-18,-.83],[-19,-.845],[-20.8,-.848],[-21.8,-.87],[-22.7,-.888],[-23.8,-.92],[-25,-.947],
[-25,-.93],[-24,-.9],[-22.7,-.89],[-21.5,-.86],[-20.8,-.85],[-19.8,-.86],[-19,-.855],[-18,-.83],[-17.1,-.81],[-16,-.8],[-15.2,-.79],[-14.1,-.79],[-13.3,-.78],[-12.3,-.79],[-11.4,-.789],[-10.5,-.8],[-9.6,-.81],[-8.7,-.815],[-7.7,-.82],[-6.8,-.825],[-5.8,-.83],[-4.9,-.828],[-4,-.84],[-3.04,-.848],[-2.3,-.84],[-1.64,-.828],[-.9,-.8],[-.23,-.769],[.23,-.74],[.7,-.71],[1.17,-.68],[1.64,-.65],[2.1,-.592],[2.34,-.53],[2.57,-.473],[2.7,-.42],[2.8,-.375],[2.92,-.325],[3.04,-.276],[3.15,-.217],[3.27,-.158],[3.4,-.1],[3.5,-.04],[3.62,.02],[3.74,.079],[3.85,.14],[3.97,.197],[4.2,.275],[4.44,.355],[4.67,.435],[4.9,.513],[5.02,.57],[5.14,.631],[5.4,.7],[5.8,.77],[6.3,.809],[7.2,.83],[8.2,.848],[9.1,.86],[10,.84],[11,.85],[12,.87],[13,.85],[14,.86],[15.5,.84],[17,.86],[18.5,.855],[20,.87],[21.5,.86],[23,.868],[24,.855],[25,.848]];
const ha25_20K = [[25,1.036],[24,1.03],[23,1.02],[22,1.01],[21,1.0],[20,.995],[19,.99],[18,.98],[17,.97],[16,.965],[15,.96],[14,.96],[13,.955],[12,.96],[11,.95],[10,.955],[9,.96],[8,.965],[7,.96],[6,.955],[5,.96],[4.4,.957],[3.5,.95],[2.8,.955],[2.1,.947],[1.2,.95],[.5,.955],[-.23,.957],[-1,.95],[-1.6,.95],[-2.1,.947],[-2.6,.93],[-3,.91],[-3.5,.888],[-3.9,.86],[-4.5,.82],[-5.0,.795],[-5.37,.78],[-5.6,.72],[-5.84,.651],[-6.05,.57],[-6.3,.493],[-6.55,.37],[-6.78,.256],[-7.0,.12],[-7.24,-.02],[-7.47,-.13],[-7.7,-.237],[-7.95,-.35],[-8.2,-.454],[-8.4,-.58],[-8.64,-.7],[-8.85,-.76],[-9.1,-.818],[-9.58,-.888],[-10.5,-.92],[-11.9,-.947],[-13.1,-.955],[-14.3,-.966],[-15.5,-.975],[-16.7,-.985],[-17.9,-.995],[-19,-1.005],[-20.2,-1.015],[-21.4,-1.025],[-22.6,-1.035],[-23.8,-1.04],[-25,-1.045],
[-24,-1.04],[-23,-1.03],[-22,-1.02],[-21,-1.01],[-20,-1.0],[-19,-.995],[-18,-.985],[-17,-.98],[-16,-.975],[-15,-.97],[-14,-.966],[-13,-.96],[-12,-.958],[-11,-.955],[-10,-.955],[-9,-.96],[-8,-.956],[-7,-.955],[-6,-.95],[-5,-.947],[-4,-.94],[-3,-.93],[-2,-.92],[-1,-.9],[-.23,-.897],[.5,-.9],[1.2,-.92],[2.1,-.937],[2.8,-.925],[3.4,-.9],[3.97,-.868],[4.4,-.83],[4.9,-.789],[5.3,-.74],[5.6,-.7],[5.84,-.651],[6.05,-.57],[6.3,-.473],[6.55,-.345],[6.78,-.217],[7.0,-.1],[7.24,0],[7.47,.12],[7.7,.237],[7.95,.355],[8.2,.473],[8.42,.58],[8.64,.69],[8.85,.77],[9.1,.828],[9.6,.86],[10.5,.88],[11.5,.9],[12.5,.915],[13.8,.937],[15,.955],[16.5,.97],[18.5,.986],[20,1.0],[21.5,1.015],[23,1.025],[25,1.036]];

// 50 nm, theta=90, hard axis
const ha50_300K = [[25,1.12],[24,1.11],[23,1.1],[22,1.11],[21,1.1],[20,1.1],[19,1.09],[18,1.1],[17,1.09],[16,1.1],[15,1.08],[14,1.09],[13,1.1],[12,1.08],[11,1.09],[10,1.08],[9.1,1.087],[8.2,1.07],[7.3,1.06],[6.4,1.05],[5.5,1.03],[4.45,1.01],[3.9,.96],[3.5,.93],[2.8,.91],[2.4,.85],[2.1,.79],[1.85,.75],[1.64,.711],[1.3,.63],[.94,.553],[.7,.47],[.47,.395],[.23,.316],[0,.24],[-.23,.158],[-.47,.079],[-.6,.02],[-.7,-.04],[-.94,-.119],[-1.17,-.198],[-1.4,-.277],[-1.64,-.375],[-1.75,-.47],[-1.87,-.573],[-2.1,-.632],[-2.58,-.672],[-3.0,-.7],[-3.5,-.731],[-4.0,-.76],[-4.45,-.79],[-5.1,-.83],[-5.85,-.87],[-6.3,-.91],[-6.8,-.949],[-7.7,-1.008],[-8.7,-1.02],[-9.6,-1.04],[-10.5,-1.03],[-11.5,-1.047],[-12.5,-1.06],[-13.5,-1.08],[-14.3,-1.07],[-15.2,-1.087],[-16,-1.1],[-17,-1.09],[-18,-1.07],[-19,-1.05],[-20,-1.07],[-21,-1.1],[-22,-1.11],[-23,-1.12],[-24,-1.13],[-25,-1.14],
[-22,-1.12],[-19,-1.06],[-16,-1.09],[-14,-1.06],[-12,-1.03],[-10.5,-.99],[-9.6,-.968],[-8.4,-.92],[-7.26,-.87],[-6,-.85],[-4.9,-.83],[-3.5,-.79],[-2.6,-.77],[-2.1,-.75],[-1.75,-.67],[-1.4,-.593],[-1.17,-.5],[-.94,-.395],[-.7,-.28],[-.47,-.158],[-.23,-.079],[0,0],[.23,.079],[.47,.16],[.7,.24],[.94,.316],[1.17,.395],[1.64,.435],[1.85,.52],[2.1,.593],[2.35,.68],[2.58,.771],[2.8,.84],[3.04,.909],[3.5,.96],[4.5,1.0],[5.5,1.03],[7,1.06],[9,1.08],[12,1.09],[15,1.1],[18,1.1],[21,1.11],[25,1.12]];
const ha50_170K = [[25,1.03],[24,1.02],[23.7,1.018],[22.5,1.0],[21.5,.98],[20.5,.97],[19.5,.96],[18.5,.958],[17.5,.94],[16.5,.93],[15.5,.91],[14.5,.9],[13.8,.889],[13,.88],[12,.87],[11,.86],[10,.855],[9.1,.85],[8,.845],[6.8,.84],[5.6,.83],[4.45,.82],[3.5,.83],[3,.78],[2.6,.73],[2.1,.69],[1.64,.652],[1.4,.61],[1.17,.573],[.94,.54],[.7,.514],[.47,.485],[.23,.455],[0,.425],[-.23,.395],[-.47,.355],[-.7,.316],[-.94,.27],[-1.17,.217],[-1.6,.19],[-2.1,.158],[-2.6,.1],[-3.04,.04],[-3.5,-.02],[-3.98,-.079],[-4.3,-.11],[-4.68,-.138],[-5.0,-.1],[-5.4,-.06],[-5.8,-.12],[-6.2,-.17],[-6.56,-.198],[-6.9,-.25],[-7.26,-.296],[-7.7,-.355],[-8.2,-.415],[-8.7,-.47],[-9.13,-.514],[-9.6,-.54],[-10.1,-.563],[-10.5,-.6],[-11.0,-.632],[-11.5,-.67],[-11.94,-.711],[-12.4,-.76],[-12.9,-.81],[-13.35,-.85],[-14,-.88],[-15,-.92],[-16.6,-.95],[-18,-.98],[-19.9,-.998],[-21,-.97],[-22,-.98],[-23,-1.0],[-24.1,-1.028],[-25,-1.04],
[-25,-.95],[-24.5,-.89],[-24,-.87],[-23,-.87],[-22,-.88],[-21,-.87],[-20,-.875],[-19,-.87],[-18,-.88],[-17,-.89],[-16,-.9],[-15,-.91],[-14,-.89],[-13,-.86],[-12,-.85],[-11,-.835],[-10,-.82],[-9,-.8],[-8,-.795],[-7.26,-.79],[-6.5,-.78],[-5.8,-.775],[-4.9,-.77],[-4.2,-.76],[-3.5,-.77],[-3.04,-.81],[-2.6,-.77],[-2.1,-.7],[-1.6,-.63],[-1.1,-.57],[-.7,-.5],[-.23,-.435],[.23,-.36],[.7,-.277],[1.17,-.22],[1.64,-.158],[2.1,-.099],[2.58,-.05],[3.04,0],[3.5,.03],[4.0,.059],[4.45,.09],[4.9,.119],[5.4,.16],[5.85,.198],[6.3,.235],[6.8,.277],[7.2,.32],[7.7,.375],[8.2,.415],[8.67,.455],[9.1,.485],[9.6,.514],[10.05,.56],[10.5,.613],[11,.65],[11.5,.692],[11.9,.73],[12.4,.771],[13.3,.82],[14.3,.85],[15.5,.87],[16.7,.89],[18.5,.909],[19.7,.94],[20.8,.968],[22,.99],[23.7,1.028],[25,1.04]];
const ha50_100K = [[25,.88],[24,.88],[23,.875],[22,.87],[21,.865],[20,.86],[19,.855],[18,.85],[17,.845],[16,.84],[15,.835],[14,.83],[13,.83],[12,.828],[11,.83],[10,.83],[9.1,.83],[8,.82],[6.8,.81],[5.6,.8],[4.45,.79],[3.5,.75],[2.58,.71],[1.64,.652],[1.17,.6],[.7,.5],[.23,.395],[-.23,.356],[-.9,.3],[-1.64,.217],[-2.5,.16],[-3.5,.099],[-4.45,.069],[-5.4,.02],[-6.3,-.02],[-7.26,-.06],[-8.2,-.119],[-9.13,-.178],[-9.6,-.217],[-10.3,-.27],[-11.0,-.316],[-11.5,-.39],[-11.94,-.474],[-12.4,-.55],[-12.9,-.613],[-13.35,-.692],[-13.8,-.731],[-14.75,-.77],[-15.5,-.79],[-16.2,-.81],[-17.5,-.83],[-19,-.85],[-20.5,-.86],[-22.7,-.87],[-23.7,-.9],[-24.3,-.94],[-25,-.968],
[-25,-.95],[-24.5,-.9],[-23.5,-.88],[-22,-.87],[-20.5,-.85],[-19,-.85],[-17.5,-.84],[-16,-.83],[-15,-.82],[-14.3,-.81],[-13,-.8],[-11.5,-.785],[-10.5,-.78],[-9.6,-.77],[-8.4,-.76],[-7.26,-.75],[-6,-.73],[-4.9,-.711],[-4,-.69],[-3.04,-.672],[-2.3,-.65],[-1.64,-.632],[-1.1,-.56],[-.47,-.435],[0,-.38],[.23,-.336],[.7,-.28],[1.17,-.237],[1.64,-.19],[2.1,-.158],[2.8,-.125],[3.5,-.099],[4.45,-.059],[5.4,-.01],[6.3,.04],[7.2,.08],[8.2,.119],[9.13,.138],[10.07,.178],[10.5,.277],[11.1,.35],[11.7,.415],[12.1,.49],[12.4,.553],[13,.64],[13.6,.711],[14.3,.79],[15.2,.81],[16.5,.82],[18,.83],[19.5,.84],[21,.85],[22.5,.86],[24,.87],[25,.88]];
const ha50_20K = [[25,.9],[24,.9],[23,.905],[22,.9],[21,.895],[20,.89],[19,.88],[18,.87],[17,.86],[16,.85],[15,.84],[14,.83],[12.9,.81],[11.5,.8],[10.3,.795],[9.13,.79],[8,.77],[6.8,.75],[5.6,.72],[4.45,.692],[3.7,.66],[3.04,.632],[2.1,.58],[1.17,.534],[.7,.48],[.23,.435],[-.23,.415],[-.7,.395],[-1.4,.345],[-2.1,.296],[-2.81,.277],[-3.15,.24],[-3.5,.198],[-4,.17],[-4.45,.138],[-4.9,.1],[-5.4,.059],[-5.85,.01],[-6.3,-.04],[-6.8,-.08],[-7.26,-.119],[-7.7,-.15],[-8.2,-.178],[-8.9,-.21],[-9.6,-.237],[-10.4,-.28],[-11.24,-.336],[-11.7,-.415],[-12.2,-.52],[-12.65,-.613],[-13.35,-.692],[-13.8,-.8],[-14.3,-.9],[-14.75,-.968],[-15.5,-1.0],[-16.2,-1.028],[-17.5,-1.05],[-19,-1.067],[-20.5,-1.075],[-22,-1.08],[-23.5,-1.087],[-25,-1.09],
[-25,-.93],[-24.3,-.91],[-23.2,-.89],[-22,-.88],[-20.8,-.875],[-19.5,-.88],[-18.5,-.88],[-17,-.87],[-15.5,-.86],[-14.3,-.845],[-13,-.83],[-11.7,-.82],[-10.3,-.8],[-9,-.79],[-7.7,-.77],[-6.5,-.75],[-5.4,-.73],[-4.2,-.7],[-3.2,-.67],[-2.3,-.63],[-1.17,-.553],[-.47,-.49],[.23,-.435],[.7,-.39],[1.17,-.356],[1.64,-.335],[2.1,-.316],[2.8,-.277],[3.5,-.237],[4.45,-.198],[5.4,-.138],[6.1,-.059],[6.8,.02],[7.7,.079],[8.67,.138],[9.5,.18],[10.4,.22],[11.24,.277],[11.94,.356],[12.4,.435],[12.9,.553],[13.6,.672],[14.05,.731],[14.5,.889],[15.1,.93],[15.7,.968],[16.6,1.0],[17.6,1.028],[18.8,1.05],[19.9,1.067],[21.5,1.065],[23.2,1.057],[25,1.06]];

// ---------------- layout ----------------
const W = 1211, H = 927;
const panels = [
  {box:[95,452,57.5,429.5], xd:[-12,12], row:0, col:0, series:[ea12_300K,ea12_170K,ea12_100K,ea12_20K]},
  {box:[484,840,60.5,431.5], xd:[-12,12], row:0, col:1, series:[ea25_300K,ea25_170K,ea25_100K,ea25_20K]},
  {box:[863.5,1220,63.5,425], xd:[-12,12], row:0, col:2, series:[ea50_300K,ea50_170K,ea50_100K,ea50_20K]},
  {box:[95,452,474,846], xd:[-25,25], row:1, col:0, series:[ha12_300K,ha12_170K,ha12_100K,ha12_20K]},
  {box:[484,840,474,846], xd:[-25,25], row:1, col:1, series:[ha25_300K,ha25_170K,ha25_100K,ha25_20K]},
  {box:[864,1220,474.5,846], xd:[-25,25], row:1, col:2, series:[ha50_300K,ha50_170K,ha50_100K,ha50_20K]}
];
const thetaPos = [[101.7,102.7],[493,98.3],[876.7,103.3],[108,517.3],[495,519],[1118,785]];
const eaPos = [[378,406],[767,412],[1146.7,405],[380,833],[766.7,833],[1138,833]];
const titleX = [287,659,1033];
const xLabelX = [213,600,962];
const xLabelBase = [460,875.5];

const svg = d3.select("body").append("svg").attr("width",W).attr("height",H);
svg.append("rect").attr("width",W).attr("height",H).attr("fill","#fff");
const FONT = '"Liberation Sans",Arial,sans-serif';
const SERIF = '"Liberation Serif","Times New Roman",serif';

panels.forEach((p,i)=>{
  const [x0,x1,y0,y1] = p.box;
  const x = d3.scaleLinear().domain(p.xd).range([x0,x1]);
  const y = d3.scaleLinear().domain([-1.1,1.1]).range([y1,y0]);
  const g = svg.append("g");
  const cid = "clip"+i;
  svg.append("clipPath").attr("id",cid).append("rect").attr("x",x0).attr("y",y0).attr("width",x1-x0).attr("height",y1-y0);

  g.append("line").attr("x1",x0).attr("x2",x1).attr("y1",y(0)).attr("y2",y(0)).attr("stroke","#000").attr("stroke-width",1.6);
  g.append("line").attr("x1",x(0)).attr("x2",x(0)).attr("y1",y0).attr("y2",y1).attr("stroke","#000").attr("stroke-width",1.6);

  const dg = g.append("g").attr("clip-path",`url(#${cid})`);
  const line = d3.line().x(d=>x(d[0])).y(d=>y(d[1]));
  p.series.forEach((s,k)=>{
    dg.append("path").attr("d",line(s)).attr("fill","none").attr("stroke",colors[k]).attr("stroke-width",3).attr("stroke-linejoin","round");
    dg.append("g").selectAll("circle").data(s).join("circle")
      .attr("cx",d=>x(d[0])).attr("cy",d=>y(d[1])).attr("r",4.9).attr("fill",colors[k]);
  });

  g.append("rect").attr("x",x0).attr("y",y0).attr("width",x1-x0).attr("height",y1-y0).attr("fill","none").attr("stroke","#000").attr("stroke-width",1.8);

  const xAx = d3.axisBottom(x).tickValues(p.row===0?topXMajor:botXMajor).tickSize(6).tickFormat(d=>String(d));
  const gx = g.append("g").attr("transform",`translate(0,${y1})`).call(xAx);
  gx.select(".domain").remove();
  gx.selectAll("line").attr("stroke","#000").attr("stroke-width",1.6);
  gx.selectAll("text").attr("y",xLabelBase[p.row]-y1).attr("dy",0).attr("font-size",22).attr("font-weight","bold")
    .attr("font-family",FONT).attr("fill","#000").attr("transform","scale(1.1,1)");
  (p.row===0?topXMinor:botXMinor).forEach(v=>{
    g.append("line").attr("x1",x(v)).attr("x2",x(v)).attr("y1",y1-3).attr("y2",y1+4).attr("stroke","#000").attr("stroke-width",1.4);
  });

  const yAx = d3.axisLeft(y).tickValues(yMajor).tickSize(6).tickFormat(p.col===0? (d=>String(d)) : (()=>""));
  const gy = g.append("g").attr("transform",`translate(${x0},0)`).call(yAx);
  gy.select(".domain").remove();
  gy.selectAll("line").attr("stroke","#000").attr("stroke-width",1.6);
  gy.selectAll("text").attr("x",-13).attr("dy","0.35em").attr("font-size",22).attr("font-weight","bold")
    .attr("font-family",FONT).attr("fill","#000");
  yMinor.forEach(v=>{
    g.append("line").attr("x1",x0-3).attr("x2",x0+3).attr("y1",y(v)).attr("y2",y(v)).attr("stroke","#000").attr("stroke-width",1.4);
  });

  const tp = thetaPos[i];
  const tt = g.append("text").attr("transform",`translate(${tp[0]},${tp[1]}) scale(0.92,1)`)
    .attr("font-size",35).attr("font-family",FONT).attr("fill","#000");
  tt.append("tspan").attr("font-family",SERIF).text("θ");
  tt.append("tspan").text(angleLabels[i]);
  tt.append("tspan").attr("font-size",17).attr("dy",-17).text("o");

  const ep = eaPos[i];
  g.append("text").attr("x",ep[0]).attr("y",ep[1]).attr("font-size",42).attr("font-weight","bold")
    .attr("font-family",FONT).attr("fill","#000").text(axisLabels[i]);

  if (p.row===0) {
    svg.append("text").attr("x",titleX[p.col]).attr("y",45).attr("text-anchor","middle")
      .attr("font-size",35).attr("font-weight","bold").attr("font-family",FONT).text(titles[p.col]);
  } else {
    const xl = svg.append("text").attr("x",xLabelX[p.col]).attr("y",913).attr("font-size",39).attr("font-weight","bold").attr("font-family",FONT);
    xl.append("tspan").text("μ");
    xl.append("tspan").attr("font-size",24).attr("dy",18).text("o");
    xl.append("tspan").attr("dy",-18).text("H (mT)");
  }
});

svg.append("text").attr("transform","translate(44,441) rotate(-90)").attr("text-anchor","middle")
  .attr("font-size",41.5).attr("font-family",FONT).attr("fill","#000").text("Normalized Magnetization (a.u.)");

const lg = svg.append("g");
temps.forEach((t,k)=>{
  const ly = 495 + k*34.3;
  lg.append("line").attr("x1",875).attr("x2",937).attr("y1",ly).attr("y2",ly).attr("stroke",colors[k]).attr("stroke-width",4);
  lg.append("circle").attr("cx",906).attr("cy",ly).attr("r",5.5).attr("fill",colors[k]);
  lg.append("text").attr("x",945).attr("y",ly+10).attr("font-size",26).attr("font-weight","bold").attr("font-family",FONT).text(t);
});
</script>
</body></html>
